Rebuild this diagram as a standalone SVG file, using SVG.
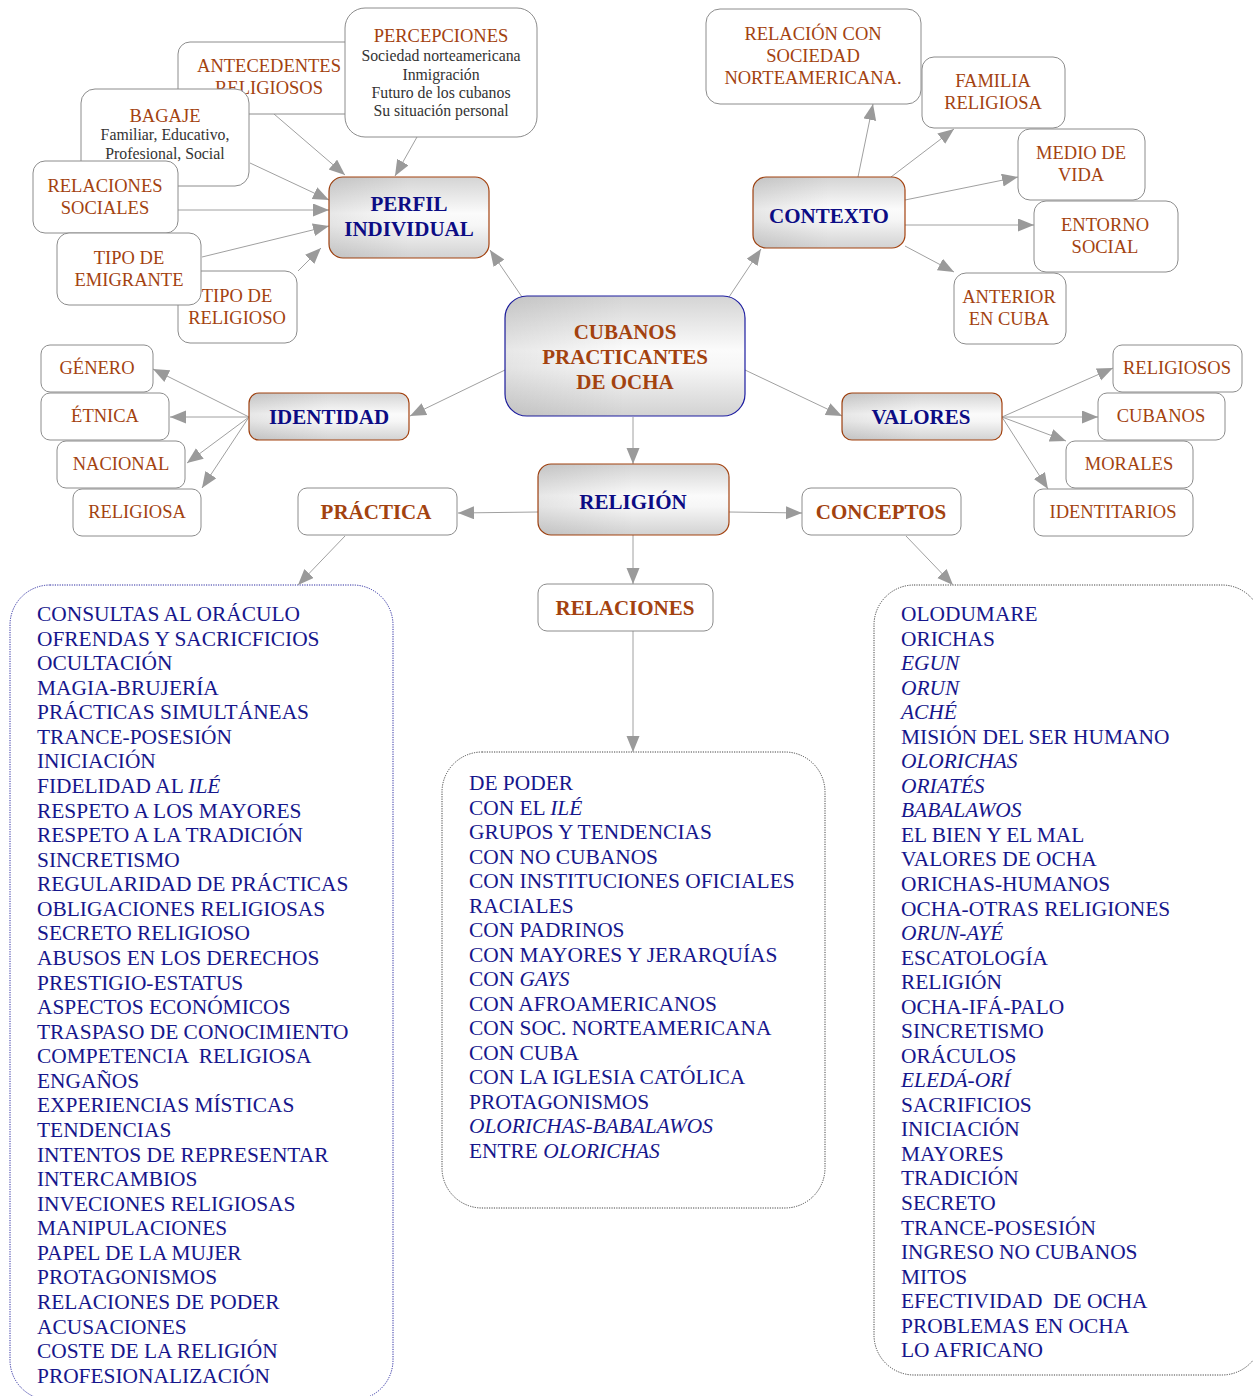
<svg xmlns="http://www.w3.org/2000/svg" width="1253" height="1396" viewBox="0 0 1253 1396">
  <defs>
    <linearGradient id="shade" x1="0" y1="0" x2="0" y2="1">
      <stop offset="0" stop-color="#d4d4d4"/>
      <stop offset="0.45" stop-color="#fbfbfb"/>
      <stop offset="0.6" stop-color="#f6f6f6"/>
      <stop offset="1" stop-color="#d2d2d2"/>
    </linearGradient>
    <linearGradient id="shadeSide" x1="0" y1="0" x2="1" y2="0">
      <stop offset="0" stop-color="#000" stop-opacity="0.08"/>
      <stop offset="0.5" stop-color="#000" stop-opacity="0"/>
      <stop offset="1" stop-color="#000" stop-opacity="0"/>
    </linearGradient>
    <marker id="arr" markerUnits="userSpaceOnUse" markerWidth="17" markerHeight="14" refX="16" refY="6.5" orient="auto">
      <path d="M0,0 L16,6.5 L0,13 z" fill="#9a9a9a"/>
    </marker>
    <style>
      text { font-family: "Liberation Serif", "Times New Roman", serif; }
      .box { fill: #ffffff; stroke: #8c8c8c; stroke-width: 1; }
      .hub { fill: url(#shade); stroke: #a3420f; stroke-width: 1.2; }
      .hubside { fill: url(#shadeSide); stroke: none; }
      .root { fill: url(#shade); stroke: #1c1ca0; stroke-width: 1.2; }
      .lbl { fill: #a3420f; font-size: 18.5px; text-anchor: middle; }
      .sub { fill: #333333; font-size: 15.8px; text-anchor: middle; }
      .hubtxt { fill: #0c0c84; font-size: 21px; font-weight: bold; text-anchor: middle; }
      .brtxt { fill: #a3420f; font-size: 21px; font-weight: bold; text-anchor: middle; }
      .list { fill: #16168c; font-size: 21.4px; }
      .it { font-style: italic; }
      .panel { fill: #ffffff; stroke: #444444; stroke-width: 1; stroke-dasharray: 1.2 1.2; }
      .panelblue { fill: #ffffff; stroke: #2a2aa0; stroke-width: 1; stroke-dasharray: 1.2 1.2; }
      .edge { stroke: #a0a0a0; stroke-width: 1; fill: none; marker-end: url(#arr); }
    </style>
  </defs>

  <!-- list panels -->
  <g id="panel-practica">
    <rect class="panelblue" x="10" y="585" width="383" height="815" rx="40"/>
    <text class="list" x="37">
      <tspan x="37" y="621">CONSULTAS AL ORÁCULO</tspan>
      <tspan x="37" y="646">OFRENDAS Y SACRICFICIOS</tspan>
      <tspan x="37" y="670">OCULTACIÓN</tspan>
      <tspan x="37" y="695">MAGIA-BRUJERÍA</tspan>
      <tspan x="37" y="719">PRÁCTICAS SIMULTÁNEAS</tspan>
      <tspan x="37" y="744">TRANCE-POSESIÓN</tspan>
      <tspan x="37" y="768">INICIACIÓN</tspan>
      <tspan x="37" y="793">FIDELIDAD AL <tspan class="it">ILÉ</tspan></tspan>
      <tspan x="37" y="818">RESPETO A LOS MAYORES</tspan>
      <tspan x="37" y="842">RESPETO A LA TRADICIÓN</tspan>
      <tspan x="37" y="867">SINCRETISMO</tspan>
      <tspan x="37" y="891">REGULARIDAD DE PRÁCTICAS</tspan>
      <tspan x="37" y="916">OBLIGACIONES RELIGIOSAS</tspan>
      <tspan x="37" y="940">SECRETO RELIGIOSO</tspan>
      <tspan x="37" y="965">ABUSOS EN LOS DERECHOS</tspan>
      <tspan x="37" y="990">PRESTIGIO-ESTATUS</tspan>
      <tspan x="37" y="1014">ASPECTOS ECONÓMICOS</tspan>
      <tspan x="37" y="1039">TRASPASO DE CONOCIMIENTO</tspan>
      <tspan x="37" y="1063" xml:space="preserve">COMPETENCIA  RELIGIOSA</tspan>
      <tspan x="37" y="1088">ENGAÑOS</tspan>
      <tspan x="37" y="1112">EXPERIENCIAS MÍSTICAS</tspan>
      <tspan x="37" y="1137">TENDENCIAS</tspan>
      <tspan x="37" y="1162">INTENTOS DE REPRESENTAR</tspan>
      <tspan x="37" y="1186">INTERCAMBIOS</tspan>
      <tspan x="37" y="1211">INVECIONES RELIGIOSAS</tspan>
      <tspan x="37" y="1235">MANIPULACIONES</tspan>
      <tspan x="37" y="1260">PAPEL DE LA MUJER</tspan>
      <tspan x="37" y="1284">PROTAGONISMOS</tspan>
      <tspan x="37" y="1309">RELACIONES DE PODER</tspan>
      <tspan x="37" y="1334">ACUSACIONES</tspan>
      <tspan x="37" y="1358">COSTE DE LA RELIGIÓN</tspan>
      <tspan x="37" y="1383">PROFESIONALIZACIÓN</tspan>
    </text>
  </g>

  <g id="panel-relaciones">
    <rect class="panel" x="442" y="752" width="383" height="456" rx="40"/>
    <text class="list" x="469">
      <tspan x="469" y="790">DE PODER</tspan>
      <tspan x="469" y="815">CON EL <tspan class="it">ILÉ</tspan></tspan>
      <tspan x="469" y="839">GRUPOS Y TENDENCIAS</tspan>
      <tspan x="469" y="864">CON NO CUBANOS</tspan>
      <tspan x="469" y="888">CON INSTITUCIONES OFICIALES</tspan>
      <tspan x="469" y="913">RACIALES</tspan>
      <tspan x="469" y="937">CON PADRINOS</tspan>
      <tspan x="469" y="962">CON MAYORES Y JERARQUÍAS</tspan>
      <tspan x="469" y="986">CON <tspan class="it">GAYS</tspan></tspan>
      <tspan x="469" y="1011">CON AFROAMERICANOS</tspan>
      <tspan x="469" y="1035">CON SOC. NORTEAMERICANA</tspan>
      <tspan x="469" y="1060">CON CUBA</tspan>
      <tspan x="469" y="1084">CON LA IGLESIA CATÓLICA</tspan>
      <tspan x="469" y="1109">PROTAGONISMOS</tspan>
      <tspan x="469" y="1133" class="it">OLORICHAS-BABALAWOS</tspan>
      <tspan x="469" y="1158">ENTRE <tspan class="it">OLORICHAS</tspan></tspan>
    </text>
  </g>

  <g id="panel-conceptos">
    <rect class="panel" x="874" y="585" width="388" height="790" rx="40"/>
    <text class="list" x="901">
      <tspan x="901" y="621">OLODUMARE</tspan>
      <tspan x="901" y="646">ORICHAS</tspan>
      <tspan x="901" y="670" class="it">EGUN</tspan>
      <tspan x="901" y="695" class="it">ORUN</tspan>
      <tspan x="901" y="719" class="it">ACHÉ</tspan>
      <tspan x="901" y="744">MISIÓN DEL SER HUMANO</tspan>
      <tspan x="901" y="768" class="it">OLORICHAS</tspan>
      <tspan x="901" y="793" class="it">ORIATÉS</tspan>
      <tspan x="901" y="817" class="it">BABALAWOS</tspan>
      <tspan x="901" y="842">EL BIEN Y EL MAL</tspan>
      <tspan x="901" y="866">VALORES DE OCHA</tspan>
      <tspan x="901" y="891">ORICHAS-HUMANOS</tspan>
      <tspan x="901" y="916">OCHA-OTRAS RELIGIONES</tspan>
      <tspan x="901" y="940" class="it">ORUN-AYÉ</tspan>
      <tspan x="901" y="965">ESCATOLOGÍA</tspan>
      <tspan x="901" y="989">RELIGIÓN</tspan>
      <tspan x="901" y="1014">OCHA-IFÁ-PALO</tspan>
      <tspan x="901" y="1038">SINCRETISMO</tspan>
      <tspan x="901" y="1063">ORÁCULOS</tspan>
      <tspan x="901" y="1087" class="it">ELEDÁ-ORÍ</tspan>
      <tspan x="901" y="1112">SACRIFICIOS</tspan>
      <tspan x="901" y="1136">INICIACIÓN</tspan>
      <tspan x="901" y="1161">MAYORES</tspan>
      <tspan x="901" y="1185">TRADICIÓN</tspan>
      <tspan x="901" y="1210">SECRETO</tspan>
      <tspan x="901" y="1235">TRANCE-POSESIÓN</tspan>
      <tspan x="901" y="1259">INGRESO NO CUBANOS</tspan>
      <tspan x="901" y="1284">MITOS</tspan>
      <tspan x="901" y="1308" xml:space="preserve">EFECTIVIDAD  DE OCHA</tspan>
      <tspan x="901" y="1333">PROBLEMAS EN OCHA</tspan>
      <tspan x="901" y="1357">LO AFRICANO</tspan>
    </text>
  </g>

  <!-- connectors -->
  <g id="connectors">
    <line class="edge" x1="274" y1="114" x2="345" y2="175"/>
    <line class="edge" x1="417" y1="137" x2="395" y2="176"/>
    <line class="edge" x1="250" y1="163" x2="329" y2="200"/>
    <line class="edge" x1="178" y1="210" x2="329" y2="210"/>
    <line class="edge" x1="202" y1="257" x2="329" y2="226"/>
    <line class="edge" x1="298" y1="271" x2="321" y2="248"/>
    <line class="edge" x1="522" y1="297" x2="490" y2="250"/>
    <line class="edge" x1="729" y1="297" x2="761" y2="249"/>
    <line class="edge" x1="858" y1="177" x2="873" y2="104"/>
    <line class="edge" x1="891" y1="177" x2="954" y2="129"/>
    <line class="edge" x1="905" y1="200" x2="1018" y2="177"/>
    <line class="edge" x1="905" y1="225" x2="1034" y2="225"/>
    <line class="edge" x1="905" y1="246" x2="954" y2="272"/>
    <line class="edge" x1="505" y1="370" x2="410" y2="416"/>
    <line class="edge" x1="249" y1="417" x2="153" y2="369"/>
    <line class="edge" x1="249" y1="417" x2="170" y2="417"/>
    <line class="edge" x1="249" y1="417" x2="187" y2="463"/>
    <line class="edge" x1="249" y1="417" x2="202" y2="488"/>
    <line class="edge" x1="745" y1="370" x2="842" y2="416"/>
    <line class="edge" x1="1002" y1="417" x2="1113" y2="368"/>
    <line class="edge" x1="1002" y1="417" x2="1098" y2="417"/>
    <line class="edge" x1="1002" y1="417" x2="1066" y2="441"/>
    <line class="edge" x1="1002" y1="417" x2="1048" y2="489"/>
    <line class="edge" x1="633" y1="417" x2="633" y2="464"/>
    <line class="edge" x1="538" y1="512" x2="458" y2="513"/>
    <line class="edge" x1="729" y1="512" x2="802" y2="513"/>
    <line class="edge" x1="633" y1="535" x2="633" y2="584"/>
    <line class="edge" x1="345" y1="536" x2="298" y2="585"/>
    <line class="edge" x1="906" y1="536" x2="953" y2="585"/>
    <line class="edge" x1="633" y1="631" x2="633" y2="752"/>
  </g>

  <!-- perfil individual cluster -->
  <g id="antecedentes">
    <rect class="box" x="178" y="42" width="180" height="72" rx="12"/>
    <text class="lbl" x="269" y="72">ANTECEDENTES</text>
    <text class="lbl" x="269" y="94">RELIGIOSOS</text>
  </g>
  <g id="bagaje">
    <rect class="box" x="81" y="89" width="168" height="97" rx="14"/>
    <text class="lbl" x="165" y="122">BAGAJE</text>
    <text class="sub" x="165" y="140">Familiar, Educativo,</text>
    <text class="sub" x="165" y="159">Profesional, Social</text>
  </g>
  <g id="percepciones">
    <rect class="box" x="345" y="8" width="192" height="129" rx="20"/>
    <text class="lbl" x="441" y="42">PERCEPCIONES</text>
    <text class="sub" x="441" y="61">Sociedad norteamericana</text>
    <text class="sub" x="441" y="80">Inmigración</text>
    <text class="sub" x="441" y="98">Futuro de los cubanos</text>
    <text class="sub" x="441" y="116">Su situación personal</text>
  </g>
  <g id="relaciones-sociales">
    <rect class="box" x="33" y="161" width="145" height="72" rx="12"/>
    <text class="lbl" x="105" y="192">RELACIONES</text>
    <text class="lbl" x="105" y="214">SOCIALES</text>
  </g>
  <g id="tipo-religioso">
    <rect class="box" x="178" y="271" width="119" height="72" rx="12"/>
    <text class="lbl" x="237" y="302">TIPO DE</text>
    <text class="lbl" x="237" y="324">RELIGIOSO</text>
  </g>
  <g id="tipo-emigrante">
    <rect class="box" x="57" y="233" width="144" height="72" rx="12"/>
    <text class="lbl" x="129" y="264">TIPO DE</text>
    <text class="lbl" x="129" y="286">EMIGRANTE</text>
  </g>
  <g id="perfil">
    <rect class="hub" x="329" y="177" width="160" height="81" rx="14"/>
    <rect class="hubside" x="329" y="177" width="160" height="81" rx="14"/>
    <text class="hubtxt" x="409" y="211">PERFIL</text>
    <text class="hubtxt" x="409" y="236">INDIVIDUAL</text>
  </g>

  <!-- contexto cluster -->
  <g id="relacion-sociedad">
    <rect class="box" x="706" y="9" width="215" height="95" rx="14"/>
    <text class="lbl" x="813" y="40">RELACIÓN CON</text>
    <text class="lbl" x="813" y="62">SOCIEDAD</text>
    <text class="lbl" x="813" y="84">NORTEAMERICANA.</text>
  </g>
  <g id="familia">
    <rect class="box" x="922" y="57" width="143" height="71" rx="12"/>
    <text class="lbl" x="993" y="87">FAMILIA</text>
    <text class="lbl" x="993" y="109">RELIGIOSA</text>
  </g>
  <g id="medio-vida">
    <rect class="box" x="1018" y="129" width="127" height="71" rx="12"/>
    <text class="lbl" x="1081" y="159">MEDIO DE</text>
    <text class="lbl" x="1081" y="181">VIDA</text>
  </g>
  <g id="entorno">
    <rect class="box" x="1034" y="201" width="144" height="71" rx="12"/>
    <text class="lbl" x="1105" y="231">ENTORNO</text>
    <text class="lbl" x="1105" y="253">SOCIAL</text>
  </g>
  <g id="anterior">
    <rect class="box" x="954" y="273" width="112" height="71" rx="12"/>
    <text class="lbl" x="1009" y="303">ANTERIOR</text>
    <text class="lbl" x="1009" y="325">EN CUBA</text>
  </g>
  <g id="contexto">
    <rect class="hub" x="753" y="177" width="152" height="71" rx="13"/>
    <rect class="hubside" x="753" y="177" width="152" height="71" rx="13"/>
    <text class="hubtxt" x="829" y="223">CONTEXTO</text>
  </g>

  <!-- central node -->
  <g id="cubanos">
    <rect class="root" x="505" y="296" width="240" height="120" rx="22"/>
    <rect class="hubside" x="505" y="296" width="240" height="120" rx="22"/>
    <text class="brtxt" x="625" y="339">CUBANOS</text>
    <text class="brtxt" x="625" y="364">PRACTICANTES</text>
    <text class="brtxt" x="625" y="389">DE OCHA</text>
  </g>

  <!-- identidad cluster -->
  <g id="identidad">
    <rect class="hub" x="249" y="393" width="160" height="47" rx="10"/>
    <rect class="hubside" x="249" y="393" width="160" height="47" rx="10"/>
    <text class="hubtxt" x="329" y="424">IDENTIDAD</text>
  </g>
  <g id="genero">
    <rect class="box" x="41" y="345" width="112" height="47" rx="9"/>
    <text class="lbl" x="97" y="374">GÉNERO</text>
  </g>
  <g id="etnica">
    <rect class="box" x="41" y="393" width="128" height="47" rx="9"/>
    <text class="lbl" x="105" y="422">ÉTNICA</text>
  </g>
  <g id="nacional">
    <rect class="box" x="57" y="441" width="128" height="47" rx="9"/>
    <text class="lbl" x="121" y="470">NACIONAL</text>
  </g>
  <g id="religiosa">
    <rect class="box" x="73" y="489" width="128" height="47" rx="9"/>
    <text class="lbl" x="137" y="518">RELIGIOSA</text>
  </g>

  <!-- valores cluster -->
  <g id="valores">
    <rect class="hub" x="842" y="393" width="160" height="47" rx="10"/>
    <rect class="hubside" x="842" y="393" width="160" height="47" rx="10"/>
    <text class="hubtxt" x="921" y="424">VALORES</text>
  </g>
  <g id="religiosos">
    <rect class="box" x="1113" y="345" width="129" height="47" rx="9"/>
    <text class="lbl" x="1177" y="374">RELIGIOSOS</text>
  </g>
  <g id="cubanos-valores">
    <rect class="box" x="1098" y="393" width="127" height="47" rx="9"/>
    <text class="lbl" x="1161" y="422">CUBANOS</text>
  </g>
  <g id="morales">
    <rect class="box" x="1066" y="441" width="127" height="47" rx="9"/>
    <text class="lbl" x="1129" y="470">MORALES</text>
  </g>
  <g id="identitarios">
    <rect class="box" x="1034" y="489" width="159" height="47" rx="9"/>
    <text class="lbl" x="1113" y="518">IDENTITARIOS</text>
  </g>

  <!-- religion cluster -->
  <g id="religion">
    <rect class="hub" x="538" y="464" width="191" height="71" rx="13"/>
    <rect class="hubside" x="538" y="464" width="191" height="71" rx="13"/>
    <text class="hubtxt" x="633" y="509">RELIGIÓN</text>
  </g>
  <g id="practica">
    <rect class="box" x="298" y="488" width="159" height="47" rx="9"/>
    <text class="brtxt" x="376" y="519">PRÁCTICA</text>
  </g>
  <g id="conceptos">
    <rect class="box" x="802" y="488" width="159" height="47" rx="9"/>
    <text class="brtxt" x="881" y="519">CONCEPTOS</text>
  </g>
  <g id="relaciones">
    <rect class="box" x="538" y="584" width="175" height="47" rx="9"/>
    <text class="brtxt" x="625" y="615">RELACIONES</text>
  </g>
</svg>
